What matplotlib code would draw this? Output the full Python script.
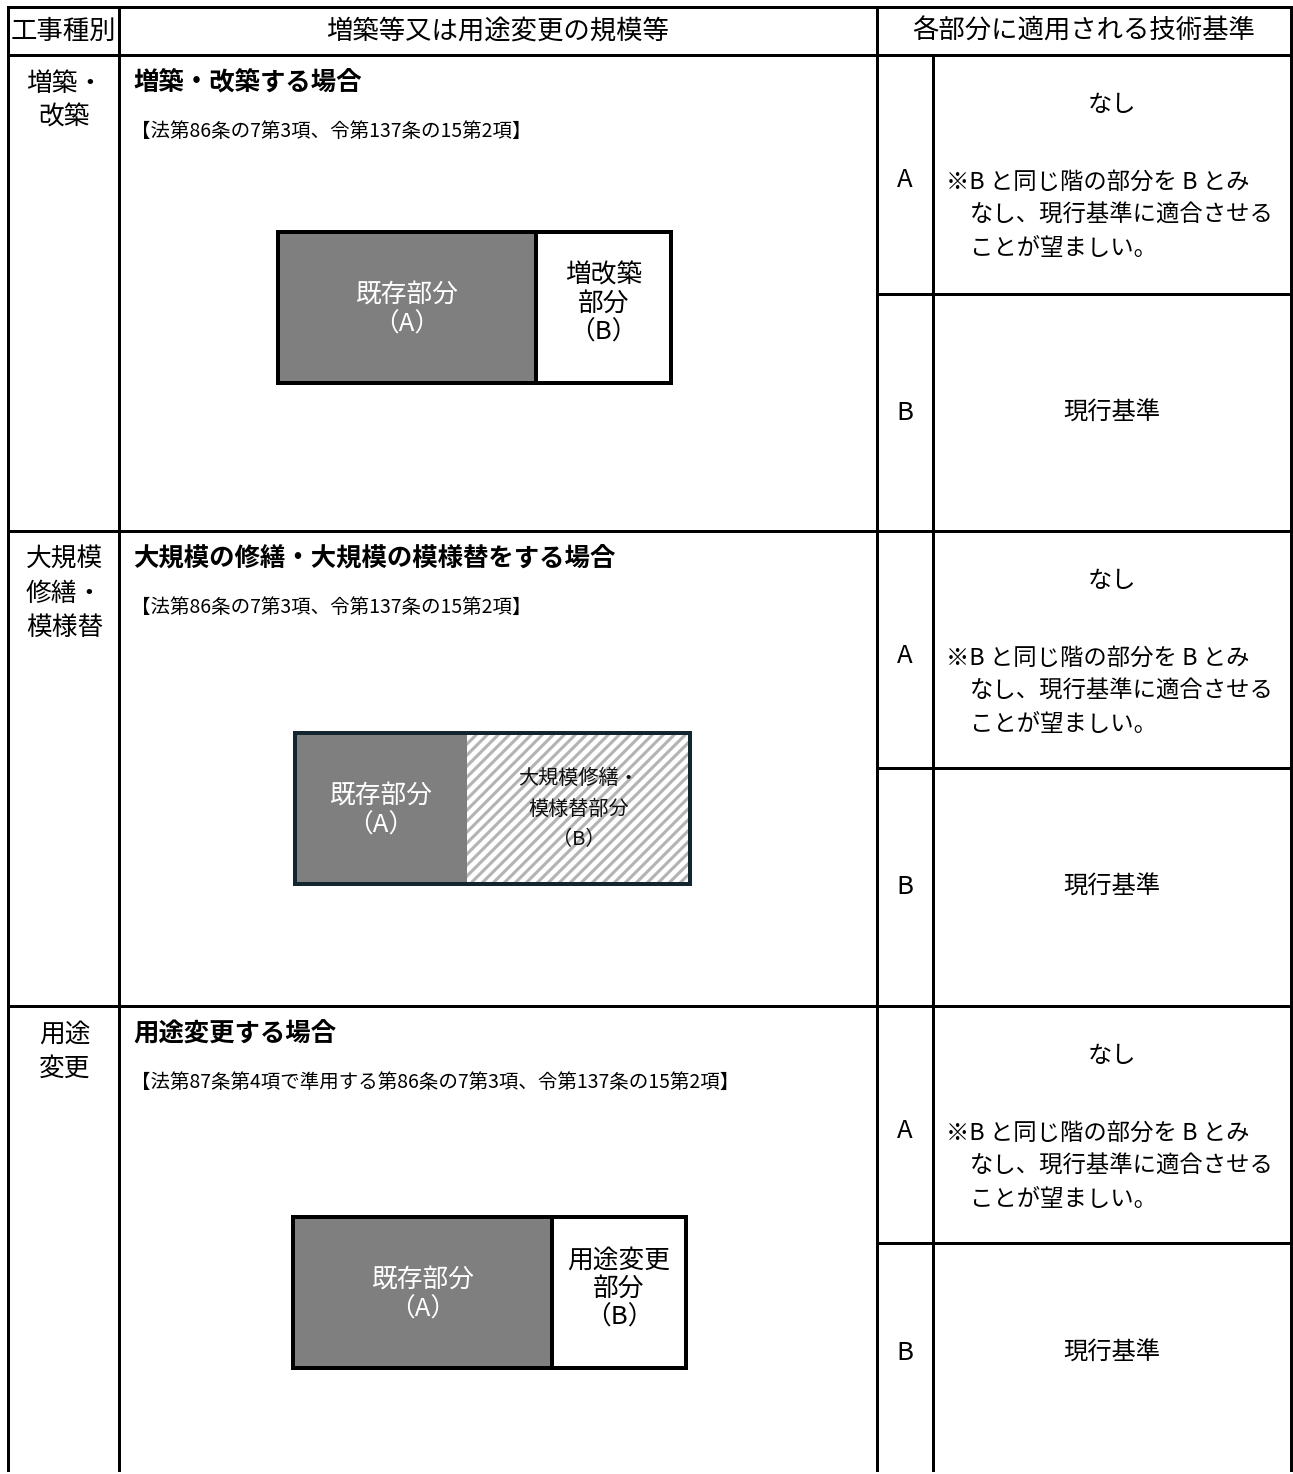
import matplotlib
matplotlib.use("Agg")
import matplotlib.pyplot as plt
from matplotlib.patches import Rectangle

plt.rcParams['font.family'] = ['Noto Sans CJK JP', 'DejaVu Sans']

# ---------------- data ----------------
headers = ["工事種別", "増築等又は用途変更の規模等", "各部分に適用される技術基準"]
work_types = [["増築・", "改築"], ["大規模", "修繕・", "模様替"], ["用途", "変更"]]
titles = ["増築・改築する場合",
          "大規模の修繕・大規模の模様替をする場合",
          "用途変更する場合"]
citations = ["【法第86条の7第3項、令第137条の15第2項】",
             "【法第86条の7第3項、令第137条の15第2項】",
             "【法第87条第4項で準用する第86条の7第3項、令第137条の15第2項】"]
part_a_label = ["既存部分", "（A）"]
part_b_labels = [["増改築", "部分", "（B）"],
                 ["大規模修繕・", "模様替部分", "（B）"],
                 ["用途変更", "部分", "（B）"]]
part_b_hatched = [False, True, False]
part_letters = ["A", "B"]
standard_A_main = "なし"
standard_A_note = ["※B と同じ階の部分を B とみ", "なし、現行基準に適合させる", "ことが望ましい。"]
standard_B = "現行基準"

# ---------------- layout (pixels) ----------------
W, H = 1293, 1474
fig = plt.figure(figsize=(W / 100, H / 100), dpi=100)
ax = fig.add_axes([0, 0, 1, 1])
ax.set_xlim(0, W)
ax.set_ylim(H, 0)
ax.axis('off')

px = 0.72  # points per pixel at dpi 100
LW = 3 * px

x_left, x_c1, x_c2, x_c3, x_right = 8, 119, 877, 933, 1291
y_top, y_head = 7, 55
row_tops = [55, 531, 1006]
row_splits = [294, 768, 1243]
y_bottom = 1470

def hline(y, x0, x1, lw=LW):
    ax.plot([x0, x1], [y, y], color='black', lw=lw, solid_capstyle='projecting')

def vline(x, y0, y1, lw=LW):
    ax.plot([x, x], [y0, y1], color='black', lw=lw, solid_capstyle='projecting')

# grid
hline(y_top, x_left, x_right)
hline(y_head, x_left, x_right)
for yt in row_tops[1:]:
    hline(yt, x_left, x_right)
for ys in row_splits:
    hline(ys, x_c2, x_right)
vline(x_left, y_top, y_bottom)
vline(x_c1, y_top, y_bottom)
vline(x_c2, y_top, y_bottom)
vline(x_c3, y_head, y_bottom)
vline(x_right, y_top, y_bottom)

# header
fs_head = 19
ax.text((x_left + x_c1) / 2, 31, headers[0], ha='center', va='center', fontsize=fs_head)
ax.text((x_c1 + x_c2) / 2, 31, headers[1], ha='center', va='center', fontsize=fs_head)
ax.text((x_c2 + x_right) / 2, 31, headers[2], ha='center', va='center', fontsize=fs_head)

# boxes: (x0, x_div, x1, y0, y1)
boxes = [(278, 536, 671, 232, 383),
         (295, 467, 690, 733, 884),
         (293, 552, 686, 1217, 1368)]

for i, rt in enumerate(row_tops):
    # work type label
    for j, line in enumerate(work_types[i]):
        ax.text((x_left + x_c1) / 2 + 1, rt + 29 + j * 34, line, ha='center', va='center', fontsize=18.5)
    # title and citation
    ax.text(133, rt + 27, titles[i], ha='left', va='center', fontsize=18.3, fontweight='bold')
    ax.text(131, rt + 76, citations[i], ha='left', va='center', fontsize=14)

    # diagram
    x0, xd, x1, y0, y1 = boxes[i]
    ax.add_patch(Rectangle((x0, y0), xd - x0, y1 - y0, facecolor='#7f7f7f', edgecolor='none', zorder=2))
    bpatch = Rectangle((xd, y0), x1 - xd, y1 - y0, facecolor='white', edgecolor='none', zorder=2)
    ax.add_patch(bpatch)
    edge = '#13262f' if part_b_hatched[i] else 'black'
    if part_b_hatched[i]:
        hgt = y1 - y0
        step = 11
        xs = xd - hgt
        while xs < x1 + step:
            ln, = ax.plot([xs, xs + hgt], [y1, y0], color='#b3b3b3', lw=2.2, zorder=3)
            ln.set_clip_path(bpatch)
            xs += step
    else:
        ax.plot([xd, xd], [y0, y1], color='black', lw=4 * px, zorder=4)
    ax.add_patch(Rectangle((x0, y0), x1 - x0, y1 - y0, facecolor='none', edgecolor=edge,
                           lw=4 * px, zorder=5))
    cy = (y0 + y1) / 2
    ax.text((x0 + xd) / 2, cy - 12, part_a_label[0], ha='center', va='center', fontsize=18.5,
            color='white', zorder=6)
    ax.text((x0 + xd) / 2, cy + 17, part_a_label[1], ha='center', va='center', fontsize=18.5,
            color='white', zorder=6)
    bl = part_b_labels[i]
    if part_b_hatched[i]:
        for j, line in enumerate(bl):
            ax.text((xd + x1) / 2, cy - 30 + j * 30.5, line, ha='center', va='center',
                    fontsize=14.5, color='#111111', zorder=6)
    else:
        for j, line in enumerate(bl):
            ax.text((xd + x1) / 2, cy - 32 + j * 28.5, line, ha='center', va='center',
                    fontsize=18.5, zorder=6)

    # standards
    rb = row_tops[i + 1] if i + 1 < len(row_tops) else y_bottom
    ys = row_splits[i]
    ax.text((x_c2 + x_c3) / 2, rt + 125, part_letters[0], ha='center', va='center', fontsize=18.5)
    ax.text((x_c2 + x_c3) / 2, (ys + rb) / 2 + (0 if i < 2 else -4), part_letters[1],
            ha='center', va='center', fontsize=18.5)
    ax.text(1112, rt + 50, standard_A_main, ha='center', va='center', fontsize=17.5)
    ax.text(946, rt + 127, standard_A_note[0], ha='left', va='center', fontsize=16.8)
    ax.text(970, rt + 160, standard_A_note[1], ha='left', va='center', fontsize=16.8)
    ax.text(970, rt + 193, standard_A_note[2], ha='left', va='center', fontsize=16.8)
    ax.text(1112, (ys + rb) / 2 + (0 if i < 2 else -4), standard_B, ha='center', va='center',
            fontsize=17.5)

fig.savefig("out.png", dpi=100)
